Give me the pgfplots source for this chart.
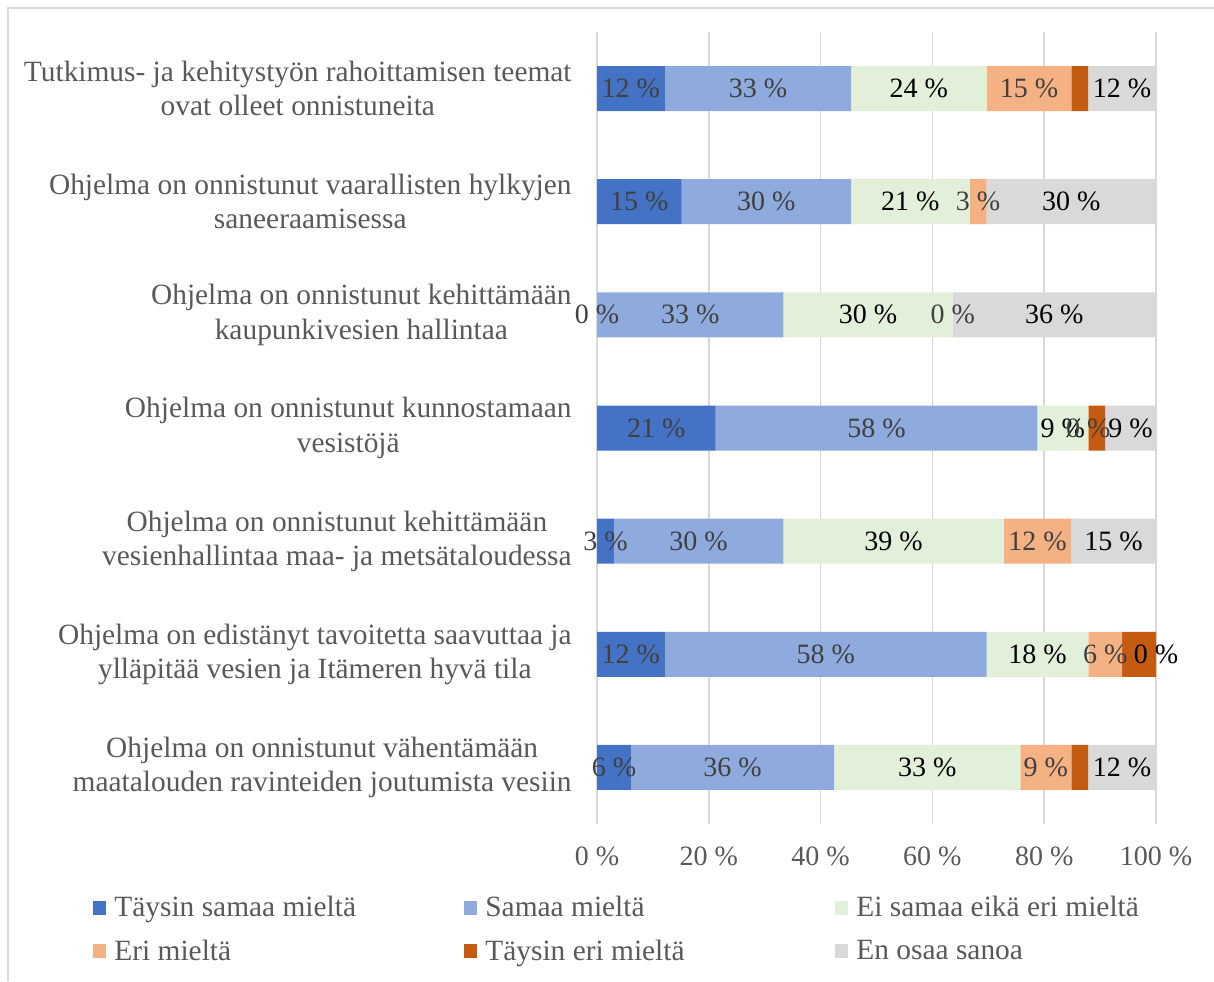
\documentclass[border=0pt]{standalone}
\usepackage{pgfplots}
\pgfplotsset{compat=1.18}
\usepackage{pgfplotstable}
\usepackage{fontspec}
\setmainfont{Liberation Serif}

\definecolor{c1}{HTML}{4472C4}
\definecolor{c2}{HTML}{8FAADC}
\definecolor{c3}{HTML}{E2F0D9}
\definecolor{c4}{HTML}{F4B183}
\definecolor{c5}{HTML}{C55A11}
\definecolor{c6}{HTML}{D9D9D9}
\definecolor{txt}{HTML}{595959}
\definecolor{lbl}{HTML}{404040}
\definecolor{gridc}{HTML}{D9D9D9}

\newcommand{\fs}{\fontsize{14}{17}\selectfont}
\newcommand{\fl}{\fontsize{14.7}{17.2}\selectfont}

% shares in percent (n = 33); p* = centre of each segment for the labels
\pgfplotstableread{
y  v1     v2     v3     v4     v5    v6     p1     p2     p3     p4     p6
7  12.12  33.33  24.24  15.15  3.03  12.12  6.06   28.79  57.58  77.27  93.94
6  15.15  30.30  21.21  3.03   0     30.30  7.58   30.30  56.06  68.18  84.85
5  0      33.33  30.30  0      0     36.36  0      16.67  48.48  63.64  81.82
4  21.21  57.58  9.09   0      3.03  9.09   10.61  50.00  83.33  87.88  95.45
3  3.03   30.30  39.39  12.12  0     15.15  1.52   18.18  53.03  78.79  92.42
2  12.12  57.58  18.18  6.06   6.06  0      6.06   40.91  78.79  90.91  100
1  6.06   36.36  33.33  9.09   3.03  12.12  3.03   24.24  59.09  80.30  93.94
}\data

\pgfplotsset{
  base/.style={scale only axis, width=279.5pt, height=396pt,
    at={(298.5pt,78.5pt)}, anchor=south west,
    xmin=0, xmax=100, ymin=0.5, ymax=7.5},
  sq/.style={legend image code/.code={\fill[##1,draw=none] (0pt,-3.5pt) rectangle (6.5pt,3.5pt);}},
}

\begin{document}
\begin{tikzpicture}[font=\fs]
\useasboundingbox (0,0) rectangle (607pt,490.5pt);
\draw[gridc, line width=1pt] (4pt,0) -- (4pt,486.5pt) -- (607pt,486.5pt);

\begin{axis}[base,
    xbar stacked,
    bar width=22.5pt,
    axis line style={draw=none},
    major tick length=0pt,
    xmajorgrids=true,
    grid style={gridc, line width=0.75pt},
    xtick={0,20,40,60,80,100},
    xticklabels={0~\%,20~\%,40~\%,60~\%,80~\%,100~\%},
    x tick label style={text=txt, yshift=-8pt},
    ytick={1,...,7},
    yticklabels={
      {Ohjelma on onnistunut vähentämään\\maatalouden ravinteiden joutumista vesiin},
      {Ohjelma on edistänyt tavoitetta saavuttaa ja\\ylläpitää vesien ja Itämeren hyvä tila},
      {Ohjelma on onnistunut kehittämään\\vesienhallintaa maa- ja metsätaloudessa},
      {Ohjelma on onnistunut kunnostamaan\\vesistöjä},
      {Ohjelma on onnistunut kehittämään\\kaupunkivesien hallintaa},
      {Ohjelma on onnistunut vaarallisten hylkyjen\\saneeraamisessa},
      {Tutkimus- ja kehitystyön rahoittamisen teemat\\ovat olleet onnistuneita}},
    y tick label style={text=txt, font=\fl, align=center, inner sep=0pt, xshift=-12.5pt},
    legend columns=3,
    legend cell align=left,
    legend style={at={(-0.9016,-0.0909)}, anchor=north west, draw=none, fill=none,
      inner sep=0pt, row sep=10pt, font=\fl, nodes={inner sep=0pt, text=txt},
      /tikz/every odd column/.append style={column sep=4pt}},
]
\addplot[fill=c1, draw=none, sq] table[x=v1, y=y] {\data};
\addlegendentry{\makebox[175pt][l]{Täysin samaa mieltä}}
\addplot[fill=c2, draw=none, sq] table[x=v2, y=y] {\data};
\addlegendentry{\makebox[175pt][l]{Samaa mieltä}}
\addplot[fill=c3, draw=none, sq] table[x=v3, y=y] {\data};
\addlegendentry{\makebox[175pt][l]{Ei samaa eikä eri mieltä}}
\addplot[fill=c4, draw=none, sq] table[x=v4, y=y] {\data};
\addlegendentry{Eri mieltä}
\addplot[fill=c5, draw=none, sq] table[x=v5, y=y] {\data};
\addlegendentry{Täysin eri mieltä}
\addplot[fill=c6, draw=none, sq] table[x=v6, y=y] {\data};
\addlegendentry{En osaa sanoa}
\end{axis}

\begin{axis}[base, hide axis, clip=false,
    point meta=explicit,
    /pgf/number format/assume math mode=true,
    nodes near coords={\pgfmathprintnumber[fixed,precision=0]{\pgfplotspointmeta}~\%},
    every node near coord/.append style={anchor=center, font=\fs, inner sep=0pt},
]
\addplot[draw=none, mark=none, nodes near coords style={text=lbl}] table[x=p1, y=y, meta=v1] {\data};
\addplot[draw=none, mark=none, nodes near coords style={text=lbl}] table[x=p2, y=y, meta=v2] {\data};
\addplot[draw=none, mark=none, nodes near coords style={text=black}] table[x=p3, y=y, meta=v3] {\data};
\addplot[draw=none, mark=none, nodes near coords style={text=lbl}] table[x=p4, y=y, meta=v4] {\data};
\addplot[draw=none, mark=none, nodes near coords style={text=black}] table[x=p6, y=y, meta=v6] {\data};
\end{axis}
\end{tikzpicture}
\end{document}
